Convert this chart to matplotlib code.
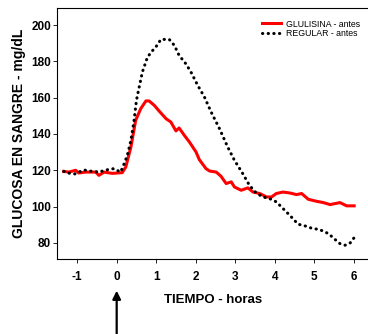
import numpy as np
import matplotlib.pyplot as plt

plt.rcParams['font.family'] = ['Liberation Sans', 'DejaVu Sans']
plt.rcParams['axes.unicode_minus'] = False

# GLULISINA - antes
t_glu = [-1.34, -1.21, -1.04, -0.96, -0.79, -0.53, -0.45, -0.32, -0.11, 0.14,
         0.23, 0.36, 0.48, 0.61, 0.74, 0.82, 0.95, 1.08, 1.25, 1.37,
         1.50, 1.58, 1.71, 1.84, 2.01, 2.09, 2.26, 2.35, 2.52, 2.64,
         2.77, 2.90, 2.98, 3.15, 3.32, 3.45, 3.62, 3.79, 3.92, 4.04,
         4.21, 4.38, 4.55, 4.68, 4.85, 5.06, 5.23, 5.40, 5.65, 5.82, 6.01]
g_glu = [119.4, 119, 120, 118.5, 119, 119, 117.2, 119, 118.3, 118.7,
         121.8, 132.8, 147.5, 154, 158.2, 158.2, 155.8, 152.5, 148.4, 146.6,
         141.7, 143.3, 139.3, 135.6, 130, 125.9, 120.9, 119.6, 119, 116.7,
         112.7, 113.6, 110.8, 109, 110.3, 108, 107.2, 105.3, 105.3, 107.2,
         108, 107.5, 106.6, 107.2, 104, 102.9, 102.2, 101.1, 102.2, 100.4, 100.4]

# REGULAR - antes
t_reg = [-1.34, -1.17, -1.06, -0.83, -0.70, -0.58, -0.45, -0.30, -0.19, -0.07,
         0.10, 0.19, 0.27, 0.36, 0.44, 0.50, 0.57, 0.65, 0.78, 0.91,
         0.99, 1.12, 1.33, 1.46, 1.58, 1.75, 1.88, 2.05, 2.22, 2.39,
         2.60, 2.81, 2.98, 3.19, 3.36, 3.53, 3.70, 3.87, 4.04, 4.21,
         4.38, 4.59, 4.76, 4.93, 5.14, 5.36, 5.53, 5.65, 5.78, 5.91, 6.01]
g_reg = [119.4, 118.2, 118, 120.2, 119.6, 119.4, 119, 120, 120.5, 120.9,
         119, 123.7, 128.3, 136.5, 147.5, 158.5, 165.9, 174.1, 182.4, 186,
         187.9, 192.1, 192.1, 188.8, 183.3, 178.7, 174.1, 166.8, 160.4, 152.1,
         143, 132.8, 125.5, 118.2, 111.7, 107.5, 105.3, 104.4, 102.6, 98.9,
         95.2, 90.3, 89.4, 88.1, 87.3, 85.1, 81.8, 79.6, 78.7, 80, 82.9]

xticks = [-1, 0, 1, 2, 3, 4, 5, 6]
yticks = [80, 100, 120, 140, 160, 180, 200]

fig = plt.figure(figsize=(3.68, 3.34), dpi=100)
ax = fig.add_axes([0.156, 0.225, 0.844, 0.751])

ax.plot(t_glu, g_glu, color='#ff0000', lw=2.2, label='GLULISINA - antes')
ax.plot(t_reg, g_reg, color='black', lw=2.2, linestyle=(0, (0.1, 1.75)),
        dash_capstyle='round', label='REGULAR - antes')

ax.spines['right'].set_visible(False)
ax.set_xlim(-1.5, 6.36)
ax.set_ylim(71.2, 209.4)
ax.set_xticks(xticks)
ax.set_yticks(yticks)
ax.tick_params(axis='x', length=3, width=0.6, labelsize=8.5, pad=6)
ax.tick_params(axis='y', length=3, width=0.6, labelsize=8.5, pad=1.5)
for lab in ax.get_xticklabels() + ax.get_yticklabels():
    lab.set_fontweight('bold')

ax.set_xlabel('TIEMPO - horas', fontsize=9.5, fontweight='bold', labelpad=8)
ax.set_ylabel('GLUCOSA EN SANGRE - mg/dL', fontsize=10, fontweight='bold', labelpad=4)

ax.legend(loc='upper right', bbox_to_anchor=(0.99, 0.975), fontsize=6.3,
          frameon=False, handlelength=2.2, handletextpad=0.5,
          borderaxespad=0.3, labelspacing=0.1, borderpad=0.3)

# insulin injection arrow at time 0
ax.annotate('', xy=(0, 0.138), xycoords=('data', 'figure fraction'),
            xytext=(0, -0.02), textcoords=('data', 'figure fraction'),
            arrowprops=dict(arrowstyle='-|>', color='black', lw=1.6,
                            mutation_scale=12))

fig.savefig('out.png', dpi=100)
